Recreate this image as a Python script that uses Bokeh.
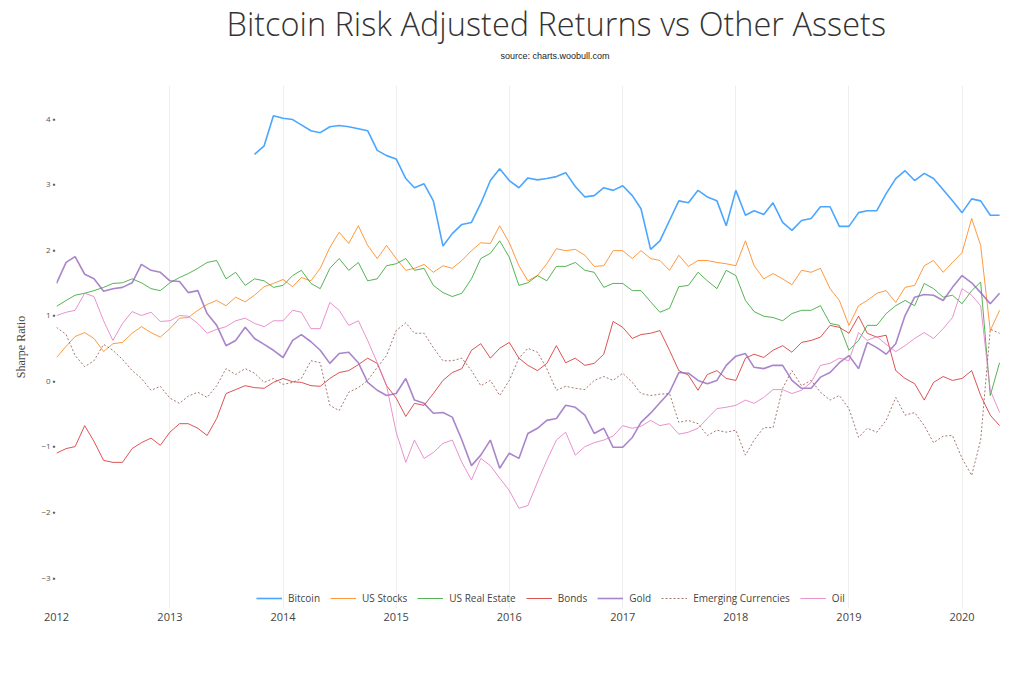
import pandas as pd
from bokeh.plotting import figure
from bokeh.models import (Title, Legend, LegendItem, FixedTicker,
                          DatetimeTickFormatter, CustomJSTickFormatter, Range1d)
from bokeh.embed import file_html
from bokeh.resources import INLINE

# monthly samples, Jan 2012 .. May 2020
months = pd.date_range("2012-01-01", periods=101, freq="MS")
btc_months = months[21:]          # bitcoin series starts Oct 2013

bitcoin = [
    3.45, 3.58, 4.04, 4.00, 3.98, 3.90, 3.81, 3.78, 3.87, 3.89,
    3.87, 3.84, 3.81, 3.51, 3.43, 3.38, 3.08, 2.94, 3.00, 2.74,
    2.05, 2.24, 2.38, 2.41, 2.70, 3.05, 3.23, 3.05, 2.94, 3.09,
    3.06, 3.08, 3.11, 3.17, 2.96, 2.80, 2.82, 2.94, 2.90, 2.97,
    2.82, 2.62, 2.00, 2.13, 2.44, 2.74, 2.71, 2.90, 2.80, 2.74,
    2.36, 2.90, 2.52, 2.59, 2.53, 2.71, 2.41, 2.29, 2.44, 2.47,
    2.65, 2.65, 2.35, 2.35, 2.56, 2.59, 2.59, 2.85, 3.08, 3.20,
    3.05, 3.16, 3.08, 2.91, 2.74, 2.56, 2.77, 2.74, 2.52, 2.52,
]
us_stocks = [
    0.35, 0.52, 0.67, 0.73, 0.64, 0.44, 0.56, 0.58, 0.72, 0.82,
    0.73, 0.66, 0.79, 0.95, 0.96, 1.07, 1.16, 1.22, 1.14, 1.27,
    1.20, 1.30, 1.43, 1.48, 1.54, 1.43, 1.57, 1.52, 1.71, 2.03,
    2.26, 2.09, 2.36, 2.06, 1.86, 2.06, 1.86, 1.68, 1.71, 1.77,
    1.65, 1.75, 1.71, 1.83, 1.98, 2.10, 2.09, 2.36, 2.10, 1.75,
    1.52, 1.60, 1.78, 2.01, 1.98, 2.00, 1.91, 1.74, 1.75, 1.98,
    1.98, 1.86, 1.98, 1.86, 1.83, 1.68, 1.91, 1.74, 1.83, 1.83,
    1.80, 1.78, 1.75, 2.13, 1.75, 1.55, 1.63, 1.55, 1.46, 1.68,
    1.65, 1.71, 1.40, 1.22, 0.84, 1.14, 1.22, 1.33, 1.37, 1.19,
    1.42, 1.45, 1.75, 1.83, 1.65, 1.80, 1.95, 2.47, 2.06, 0.76,
    1.07,
]
us_real_estate = [
    1.13, 1.22, 1.30, 1.33, 1.37, 1.42, 1.48, 1.49, 1.55, 1.49,
    1.40, 1.37, 1.49, 1.57, 1.63, 1.71, 1.80, 1.83, 1.55, 1.65,
    1.45, 1.55, 1.52, 1.42, 1.45, 1.60, 1.68, 1.48, 1.40, 1.71,
    1.86, 1.68, 1.80, 1.52, 1.55, 1.75, 1.78, 1.86, 1.68, 1.71,
    1.45, 1.34, 1.28, 1.33, 1.55, 1.86, 1.94, 2.13, 1.88, 1.45,
    1.49, 1.60, 1.52, 1.74, 1.74, 1.80, 1.68, 1.65, 1.42, 1.48,
    1.48, 1.37, 1.37, 1.20, 1.04, 1.10, 1.43, 1.45, 1.65, 1.52,
    1.40, 1.68, 1.60, 1.22, 1.05, 0.98, 0.96, 0.91, 1.02, 1.07,
    1.07, 1.14, 0.87, 0.84, 0.46, 0.61, 0.84, 0.84, 1.02, 1.14,
    1.22, 1.14, 1.48, 1.40, 1.27, 1.30, 1.17, 1.37, 1.50, -0.23,
    0.27,
]
bonds = [
    -1.11, -1.04, -1.01, -0.69, -0.93, -1.22, -1.25, -1.25, -1.04, -0.95,
    -0.88, -0.99, -0.79, -0.66, -0.66, -0.73, -0.84, -0.58, -0.20, -0.14,
    -0.08, -0.11, -0.12, -0.03, 0.03, -0.02, -0.03, -0.08, -0.09, 0.03,
    0.12, 0.15, 0.24, 0.34, 0.26, -0.08, -0.27, -0.55, -0.35, -0.38,
    -0.20, 0.00, 0.12, 0.18, 0.46, 0.56, 0.34, 0.49, 0.58, 0.34,
    0.23, 0.15, 0.26, 0.53, 0.27, 0.34, 0.23, 0.26, 0.40, 0.90,
    0.81, 0.64, 0.70, 0.72, 0.76, 0.46, 0.15, 0.08, -0.15, 0.09,
    0.15, 0.03, 0.00, 0.34, 0.40, 0.35, 0.46, 0.53, 0.43, 0.58,
    0.61, 0.66, 0.84, 0.81, 0.72, 0.98, 0.72, 0.66, 0.69, 0.15,
    0.03, -0.05, -0.30, -0.03, 0.06, 0.00, 0.03, 0.15, -0.23, -0.53,
    -0.69,
]
gold = [
    1.48, 1.80, 1.89, 1.62, 1.55, 1.36, 1.40, 1.42, 1.49, 1.77,
    1.68, 1.65, 1.52, 1.51, 1.34, 1.37, 1.02, 0.84, 0.53, 0.61,
    0.81, 0.64, 0.55, 0.46, 0.35, 0.61, 0.70, 0.59, 0.46, 0.26,
    0.41, 0.43, 0.27, -0.03, -0.15, -0.23, -0.20, 0.03, -0.30, -0.35,
    -0.50, -0.49, -0.56, -0.91, -1.30, -1.14, -0.91, -1.34, -1.11, -1.19,
    -0.81, -0.73, -0.61, -0.58, -0.38, -0.41, -0.53, -0.81, -0.73, -1.02,
    -1.02, -0.87, -0.64, -0.50, -0.34, -0.18, 0.12, 0.11, 0.00, -0.05,
    0.00, 0.23, 0.37, 0.41, 0.20, 0.18, 0.23, 0.23, 0.00, -0.12,
    -0.12, 0.05, 0.12, 0.27, 0.38, 0.18, 0.58, 0.50, 0.40, 0.56,
    0.99, 1.27, 1.31, 1.30, 1.22, 1.42, 1.60, 1.49, 1.34, 1.17,
    1.33,
]
emerging_currencies = [
    0.81, 0.70, 0.38, 0.21, 0.30, 0.55, 0.46, 0.32, 0.15, 0.03,
    -0.15, -0.09, -0.27, -0.35, -0.24, -0.18, -0.26, -0.08, 0.18, 0.09,
    0.18, 0.11, -0.03, 0.03, -0.06, -0.03, 0.03, 0.30, 0.27, -0.38,
    -0.46, -0.18, -0.11, 0.00, 0.20, 0.38, 0.76, 0.88, 0.72, 0.72,
    0.50, 0.30, 0.30, 0.34, 0.15, -0.08, 0.00, -0.23, 0.00, 0.34,
    0.49, 0.43, 0.18, -0.15, -0.09, -0.12, -0.14, 0.00, 0.06, 0.00,
    0.11, -0.03, -0.20, -0.23, -0.21, -0.20, -0.64, -0.61, -0.66, -0.84,
    -0.76, -0.79, -0.76, -1.14, -0.91, -0.72, -0.72, -0.12, 0.15, -0.08,
    0.00, -0.18, -0.30, -0.23, -0.43, -0.87, -0.73, -0.79, -0.61, -0.26,
    -0.53, -0.49, -0.69, -0.95, -0.85, -0.84, -1.19, -1.45, -0.91, 0.78,
    0.72,
]
oil = [
    0.99, 1.04, 1.07, 1.33, 1.28, 0.91, 0.61, 0.87, 1.05, 0.99,
    1.04, 0.90, 0.91, 0.99, 0.98, 0.87, 0.72, 0.78, 0.82, 0.91,
    0.95, 0.87, 0.82, 0.91, 0.91, 1.07, 1.04, 0.79, 0.79, 1.19,
    1.07, 0.84, 0.91, 0.61, 0.27, -0.08, -0.79, -1.25, -0.91, -1.19,
    -1.10, -0.96, -0.91, -1.25, -1.52, -1.19, -1.30, -1.49, -1.68, -1.95,
    -1.91, -1.55, -1.22, -0.91, -0.79, -1.14, -1.01, -0.95, -0.91, -0.85,
    -0.69, -0.73, -0.70, -0.61, -0.69, -0.66, -0.82, -0.79, -0.73, -0.58,
    -0.43, -0.41, -0.38, -0.30, -0.35, -0.26, -0.14, -0.14, -0.20, -0.15,
    -0.03, 0.23, 0.26, 0.34, 0.30, 0.73, 0.61, 0.67, 0.55, 0.44,
    0.53, 0.64, 0.73, 0.64, 0.79, 0.96, 1.40, 1.30, 1.14, -0.15,
    -0.49,
]

years = list(range(2012, 2021))
y_ticks = [-3, -2, -1, 0, 1, 2, 3, 4]

p = figure(width=1016, height=684, frame_width=944, frame_height=523,
           x_axis_type="datetime",
           x_range=Range1d(pd.Timestamp("2012-01-01"), pd.Timestamp("2020-05-04")),
           y_range=Range1d(-3.48, 4.5),
           min_border_left=56, min_border_right=16, min_border_top=85, min_border_bottom=10,
           toolbar_location=None, output_backend="svg", title=None)
p.outline_line_color = None

series = [
    ("Bitcoin", btc_months, bitcoin, "#1e90ff", 1.6, "solid"),
    ("US Stocks", months, us_stocks, "#ff7f0e", 1.0, "solid"),
    ("US Real Estate", months, us_real_estate, "#2ca02c", 1.0, "solid"),
    ("Bonds", months, bonds, "#d62728", 1.0, "solid"),
    ("Gold", months, gold, "#9467bd", 1.6, "solid"),
    ("Emerging Currencies", months, emerging_currencies, "#8c564b", 1.0, "2 2"),
    ("Oil", months, oil, "#e377c2", 1.0, "solid"),
]

items = []
for name, xs, ys, color, lw, dash in series:
    r = p.line(list(xs), ys, line_color=color, line_width=lw, line_dash=dash, line_alpha=0.8)
    items.append(LegendItem(label=name, renderers=[r]))

# x axis: years
p.xaxis.ticker = FixedTicker(ticks=[pd.Timestamp(f"{y}-01-01").value / 1e6 for y in years])
p.xaxis.formatter = DatetimeTickFormatter(years="%Y", months="%Y", days="%Y")
p.xaxis.axis_line_color = None
p.xaxis.major_tick_line_color = None
p.xaxis.minor_tick_line_color = None
p.xaxis.major_tick_out = 0
p.xaxis.major_label_text_font = "Open Sans"
p.xaxis.major_label_text_font_size = "11px"
p.xaxis.major_label_text_color = "#444444"
p.xaxis.major_label_standoff = 4
p.xgrid.grid_line_color = "#eeeeee"
p.xgrid.grid_line_width = 1

# y axis: sharpe ratio
p.yaxis.ticker = FixedTicker(ticks=y_ticks)
p.yaxis.formatter = CustomJSTickFormatter(
    code="return (tick < 0 ? '\u2212' + (-tick) : String(tick)) + ' \u25aa';")
p.yaxis.axis_line_color = None
p.yaxis.major_tick_line_color = None
p.yaxis.minor_tick_line_color = None
p.yaxis.major_tick_out = 0
p.yaxis.major_label_text_font = "Open Sans"
p.yaxis.major_label_text_font_size = "8px"
p.yaxis.major_label_text_color = "#555555"
p.yaxis.major_label_standoff = 1
p.yaxis.axis_label = "Sharpe Ratio"
p.yaxis.axis_label_text_font = "Liberation Serif"
p.yaxis.axis_label_text_font_size = "12px"
p.yaxis.axis_label_text_font_style = "normal"
p.yaxis.axis_label_text_color = "#444444"
p.yaxis.axis_label_standoff = 10
p.ygrid.grid_line_color = None

# source line sits in a tall panel; the title above it is pulled down over that panel
p.add_layout(Title(text="source: charts.woobull.com", align="left", offset=444, standoff=50,
                   text_font="Liberation Sans", text_font_size="9px",
                   text_font_style="normal", text_color="#222222"), "above")
p.add_layout(Title(text="Bitcoin Risk Adjusted Returns vs Other Assets", align="left",
                   offset=170, standoff=-44, text_font="Open Sans Light, Open Sans",
                   text_font_size="32.5px", text_font_style="normal",
                   text_color="#333333"), "above")

# legend kept inside the frame, in the empty strip under the -3 tick
legend = Legend(items=items, orientation="horizontal", location=(200, 3),
                glyph_width=26, glyph_height=14, label_height=14, label_standoff=6,
                spacing=10, padding=0, margin=0, border_line_color=None,
                background_fill_alpha=0, label_text_font="Open Sans",
                label_text_font_size="10px", label_text_color="#444444")
p.add_layout(legend)

open("out.html", "w").write(file_html(p, INLINE))
